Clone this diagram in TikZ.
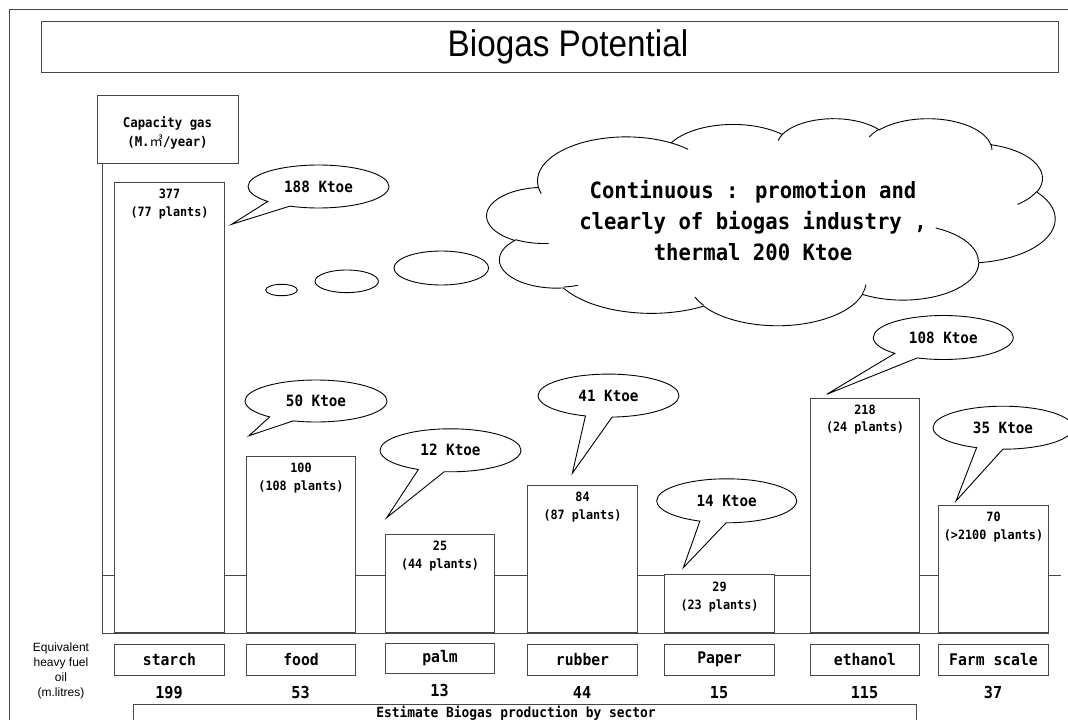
\documentclass[tikz,border=0pt]{standalone}
\usepackage{fontspec}
\setmainfont{Liberation Sans}
\newfontfamily\goth[FakeStretch=0.92]{DejaVu Sans Mono}
\newfontfamily\titlefont[FakeStretch=0.9]{Liberation Sans}
\newfontfamily\cjk{Noto Sans CJK JP}
\usetikzlibrary{shapes.geometric,shapes.callouts}
\definecolor{ink}{gray}{0.28}
\tikzset{
  frameline/.style={draw=ink, line width=1pt},
  box/.style={draw=ink, line width=1pt, fill=white, rectangle, inner sep=0pt},
  bar/.style={box, anchor=south west},
  barlbl/.style={font=\goth\bfseries\fontsize{12.8}{17.5}\selectfont, align=center, anchor=north, inner sep=0pt},
  cat/.style={box, minimum height=30.5pt, anchor=north west, font=\goth\bfseries\fontsize{16}{18}\selectfont},
  num/.style={font=\goth\bfseries\fontsize{16.5}{18}\selectfont, inner sep=0pt},
  ktoe/.style={ellipse callout, draw=black, line width=0.9pt, fill=white, inner sep=0pt,
    callout pointer arc=22, font=\goth\bfseries\fontsize{15.5}{18}\selectfont},
  bubble/.style={draw=black, line width=0.9pt, fill=white},
  cloudline/.style={draw=black, line width=0.9pt},
  % elliptical arc given by radii, visual start angle and visual sweep
  oarc/.style n args={4}{x radius=#1, y radius=#2,
    start angle={atan2((#1)*sin(#3),(#2)*cos(#3))},
    delta angle={mod(atan2((#1)*sin((#3)+(#4)),(#2)*cos((#3)+(#4)))-atan2((#1)*sin(#3),(#2)*cos(#3))+720,360)}}
}
\begin{document}
\begin{tikzpicture}[x=1pt,y=-1pt]
\path[use as bounding box] (0,0) rectangle (1068,720);
\clip (0,0) rectangle (1068,720);
\fill[white] (0,0) rectangle (1068,720);

% outer frame
\coordinate (fb) at (9,740);
\coordinate (fc) at (9,9);
\coordinate (fr) at (1090,9);
\draw[frameline] (fb) -- (fc) -- (fr);

% title
\node[box, minimum width=1017pt, minimum height=51pt] (title) at (549.5,46.5) {};
\node[font=\titlefont\fontsize{37}{40}\selectfont, inner sep=0pt] (titlelbl) at (568,46.5) {Biogas Potential};

% capacity header
\node[box, minimum width=141pt, minimum height=68pt] (cap) at (167.5,129) {};
\node[font=\goth\bfseries\fontsize{13.4}{19}\selectfont, align=center, inner sep=0pt]
  (caplbl) at (167.5,133) {Capacity gas\\(M.{\cjk\mdseries ㎥}/year)};

% reference line behind the bars
\coordinate (o) at (102,633);
\coordinate (m1) at (1061,575);
\draw[frameline] (o |- m1) -- (m1);

% bars
\node[bar, minimum width=110pt, minimum height=450pt] (starch) at (114,633) {};
\node[bar, minimum width=109pt, minimum height=176pt] (food) at (246,633) {};
\node[bar, minimum width=109pt, minimum height=98pt] (palm) at (385,633) {};
\node[bar, minimum width=110pt, minimum height=147pt] (rubber) at (527,633) {};
\node[bar, minimum width=110pt, minimum height=58pt] (paper) at (664,633) {};
\node[bar, minimum width=109pt, minimum height=234.3pt] (ethanol) at (810,633) {};
\node[bar, minimum width=110pt, minimum height=127pt] (farm) at (938,633) {};

\node[barlbl] (lstarch) at ([yshift=-7pt]starch.north) {377\\(77 plants)};
\node[barlbl] (lfood) at ([yshift=-7pt]food.north) {100\\(108 plants)};
\node[barlbl] (lpalm) at ([yshift=-7pt]palm.north) {25\\(44 plants)};
\node[barlbl] (lrubber) at ([yshift=-7pt]rubber.north) {84\\(87 plants)};
\node[barlbl] (lpaper) at ([yshift=-8pt]paper.north) {29\\(23 plants)};
\node[barlbl] (lethanol) at ([yshift=-7pt]ethanol.north) {218\\(24 plants)};
\node[barlbl] (lfarm) at ([yshift=-7pt]farm.north) {70\\(>2100 plants)};

% axes
\draw[frameline] (cap.south -| o) -- (o) -- (o -| farm.east);

% sector boxes
\node[cat, minimum width=110pt] (cstarch) at (114,644) {starch};
\node[cat, minimum width=109pt] (cfood) at (246,644) {food};
\node[cat, minimum width=109pt] (cpalm) at (385,642.5) {palm};
\node[cat, minimum width=110pt] (crubber) at (527,644) {rubber};
\node[cat, minimum width=110pt] (cpaper) at (664,644) {Paper};
\node[cat, minimum width=109pt] (cethanol) at (810,644) {ethanol};
\node[cat, minimum width=110pt] (cfarm) at (938,644) {Farm scale};

% heavy fuel oil equivalents
\node[font=\fontsize{12}{15}\selectfont, align=center, inner sep=0pt] (eq) at (61,670.5)
  {Equivalent\\heavy fuel\\oil\\(m.litres)};
\node[num] (nstarch) at (169,692.5) {199};
\node[num] (nfood) at (300.5,692.5) {53};
\node[num] (npalm) at (439.5,690.5) {13};
\node[num] (nrubber) at (582,692.5) {44};
\node[num] (npaper) at (719,692.5) {15};
\node[num] (nethanol) at (864.5,692.5) {115};
\node[num] (nfarm) at (993,692.5) {37};

% footer box
\node[box, minimum width=783pt, minimum height=40pt, anchor=north west] (est) at (133,704) {};
\node[font=\goth\bfseries\fontsize{14}{16}\selectfont, inner sep=0pt] (estlbl) at (516,713.5)
  {Estimate Biogas production by sector};

% thought bubbles
\node[bubble, ellipse, inner sep=0pt, minimum width=31.6pt, minimum height=11.4pt] (b1) at (281.5,290) {};
\node[bubble, ellipse, inner sep=0pt, minimum width=63.4pt, minimum height=22.6pt] (b2) at (346.7,281.3) {};
\node[bubble, ellipse, inner sep=0pt, minimum width=94.6pt, minimum height=34pt] (b3) at (441.3,268) {};

% cloud
\begin{scope}[shift={(487,118)}, xscale=1.31481, yscale=0.47917]
\draw[cloudline, fill=white] (39.00,143.70)
  arc[oarc={67.53}{91.90}{-190.4875}{123.7805}]
  arc[oarc={53.33}{72.67}{-144.1024}{89.9452}]
  arc[oarc={43.65}{59.45}{-145.8079}{99.7230}]
  arc[oarc={48.57}{65.95}{-130.9861}{117.2417}]
  arc[oarc={53.33}{72.73}{-78.7089}{109.0269}]
  arc[oarc={67.75}{92.20}{-46.2673}{130.2690}]
  arc[oarc={57.85}{78.67}{0.6250}{114.0333}]
  arc[oarc={67.52}{92.15}{22.4516}{115.1726}]
  arc[oarc={77.20}{105.43}{66.2426}{75.7110}]
  arc[oarc={43.60}{59.18}{-274.9421}{146.7356}]
  arc[oarc={43.45}{59.45}{-246.8285}{152.5189}]
  -- cycle;
\draw[cloudline]
  (46.93,261.77) arc[oarc={43.45}{59.45}{86.742}{26.4295}]
  (69.28,348.99) arc[oarc={43.60}{59.18}{73.6105}{11.4475}]
  (164.78,390.90) arc[oarc={67.52}{92.15}{137.6242}{14.0811}]
  (288.27,347.51) arc[oarc={67.52}{92.15}{6.4533}{15.9984}]
  (341.29,229.54) arc[oarc={57.85}{78.67}{-70.2924}{70.9174}]
  (417.98,153.54) arc[oarc={53.33}{72.73}{30.3180}{27.7515}]
  (383.24,54.26) arc[oarc={48.57}{65.95}{-13.7443}{14.8589}]
  (290.78,39.52) arc[oarc={48.57}{65.95}{-149.1815}{18.1954}]
  (221.41,47.20) arc[oarc={43.65}{59.45}{-163.4943}{17.6864}]
  (140.00,51.92) arc[oarc={67.53}{91.90}{-66.7070}{12.3194}]
  (41.27,157.89) arc[oarc={67.53}{91.90}{157.6544}{11.8582}];
\end{scope}
\node[font=\goth\bfseries\fontsize{22.4}{31}\selectfont, align=center, inner sep=0pt] (goal) at (753,221)
  {Continuous : promotion and\\clearly of biogas industry ,\\thermal 200 Ktoe};

% Ktoe callouts
\coordinate (p188) at (231.7,224.3);
\coordinate (p50) at (249,435.7);
\coordinate (p12) at (386.7,517.7);
\coordinate (p41) at (572.3,473.3);
\coordinate (p14) at (683.3,567.7);
\coordinate (p108) at (826.7,394.3);
\coordinate (p35) at (956,501);
\node[ktoe, minimum width=141pt, minimum height=43pt, callout absolute pointer=(p188)] (k188) at (318.5,186.5) {188 Ktoe};
\node[ktoe, minimum width=142pt, minimum height=42pt, callout absolute pointer=(p50)] (k50) at (316,401) {50 Ktoe};
\node[ktoe, minimum width=141pt, minimum height=43pt, callout absolute pointer=(p12)] (k12) at (450.5,450.3) {12 Ktoe};
\node[ktoe, minimum width=141pt, minimum height=43pt, callout absolute pointer=(p41)] (k41) at (608.5,395.6) {41 Ktoe};
\node[ktoe, minimum width=140pt, minimum height=44pt, callout absolute pointer=(p14)] (k14) at (726.7,500.8) {14 Ktoe};
\node[ktoe, minimum width=140pt, minimum height=44pt, callout absolute pointer=(p108)] (k108) at (943.3,337.5) {108 Ktoe};
\node[ktoe, minimum width=140pt, minimum height=43pt, callout absolute pointer=(p35)] (k35) at (1003,427.7) {35 Ktoe};
\end{tikzpicture}
\end{document}
